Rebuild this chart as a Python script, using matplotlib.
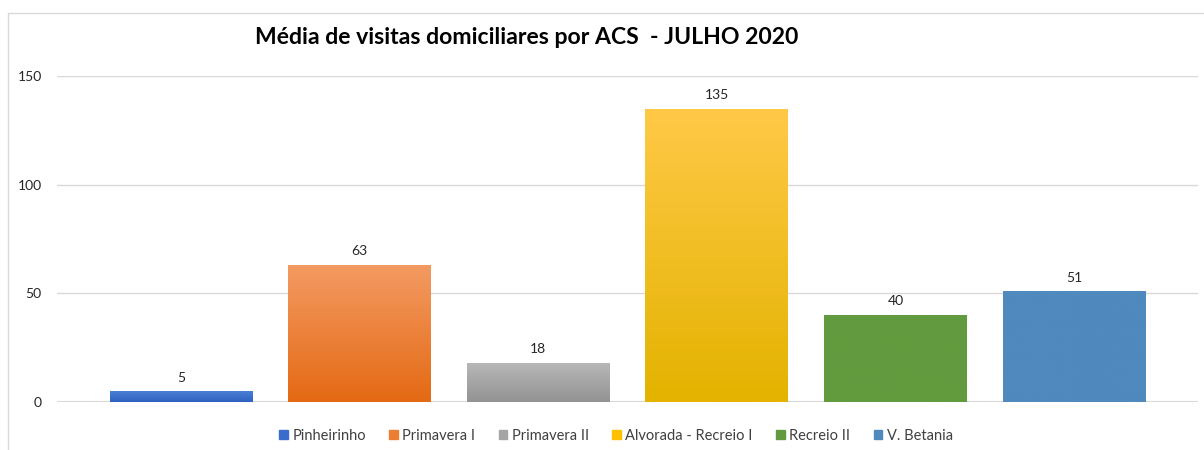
import matplotlib
matplotlib.use("Agg")
import matplotlib.pyplot as plt
import matplotlib.colors as mcolors
from matplotlib.patches import Rectangle
import numpy as np

categories = ["Pinheirinho", "Primavera I", "Primavera II", "Alvorada - Recreio I", "Recreio II", "V. Betania"]
values = [5, 63, 18, 135, 40, 51]
yticks = [0, 50, 100, 150]
title = "Média de visitas domiciliares por ACS  - JULHO 2020"

# gradient colors (top, bottom)
grad_colors = [("#4A7FD6", "#2F62BE"), ("#F39A62", "#E46A14"), ("#B8B8B8", "#939393"),
               ("#FFC947", "#E3B300"), ("#629B3F", "#629B3F"), ("#4F89BD", "#4F89BD")]
legend_colors = ["#3A6DCB", "#ED7D31", "#A5A5A5", "#FFC000", "#629B3F", "#4F89BD"]

plt.rcParams['font.family'] = ['Lato', 'DejaVu Sans']

W, H = 1204, 450
fig = plt.figure(figsize=(W / 100, H / 100), dpi=100)

# chart area border
fig.patches.append(Rectangle((8 / W, -0.1), 1.2, (H - 13) / H + 0.1, transform=fig.transFigure,
                             fill=False, edgecolor="#D9D9D9", linewidth=1.0))

ax = fig.add_axes([57 / W, 1 - 402 / H, (1198 - 57) / W, (402 - 76) / H])
x = np.arange(len(categories))
width = 0.80

for i, (v, (ct, cb)) in enumerate(zip(values, grad_colors)):
    bar = ax.bar(x[i], v, width=width, color=legend_colors[i], zorder=2, linewidth=0,
                 label=categories[i])[0]
    cmap = mcolors.LinearSegmentedColormap.from_list("g", [cb, ct])
    grad = np.linspace(0, 1, 100).reshape(-1, 1)
    im = ax.imshow(grad, extent=[x[i] - width / 2, x[i] + width / 2, 0, v], origin="lower",
                   cmap=cmap, aspect="auto", zorder=3)
    im.set_clip_path(bar)
    ax.text(x[i], v + 3.5, str(v), ha="center", va="bottom", fontsize=10, color="#262626", zorder=4)

ax.set_aspect("auto")
ax.set_xlim(-0.694, 5.694)
ax.set_ylim(0, 150)

ax.set_yticks(yticks)
ax.set_yticklabels([str(t) for t in yticks], fontsize=10, color="#262626")
ax.tick_params(axis="y", length=0, pad=11)
ax.set_xticks([])
for s in ax.spines.values():
    s.set_visible(False)
ax.grid(axis="y", color="#D9D9D9", linewidth=1.0, zorder=0)
ax.axhline(0, color="#D9D9D9", linewidth=1.5, zorder=1)

fig.text(527 / W, 1 - 37 / H, title, ha="center", va="center", fontsize=16.6,
         fontweight="bold", color="#000000")

handles = [Rectangle((0, 0), 1, 1, color=c) for c in legend_colors]
fig.legend(handles, categories, loc="center", bbox_to_anchor=(616 / W, 1 - 436 / H), ncol=6,
           frameon=False, fontsize=10.5, handlelength=0.6, handleheight=0.6, handletextpad=0.3,
           columnspacing=1.6, labelcolor="#404040")

fig.savefig("out.png", dpi=100, facecolor="white")
